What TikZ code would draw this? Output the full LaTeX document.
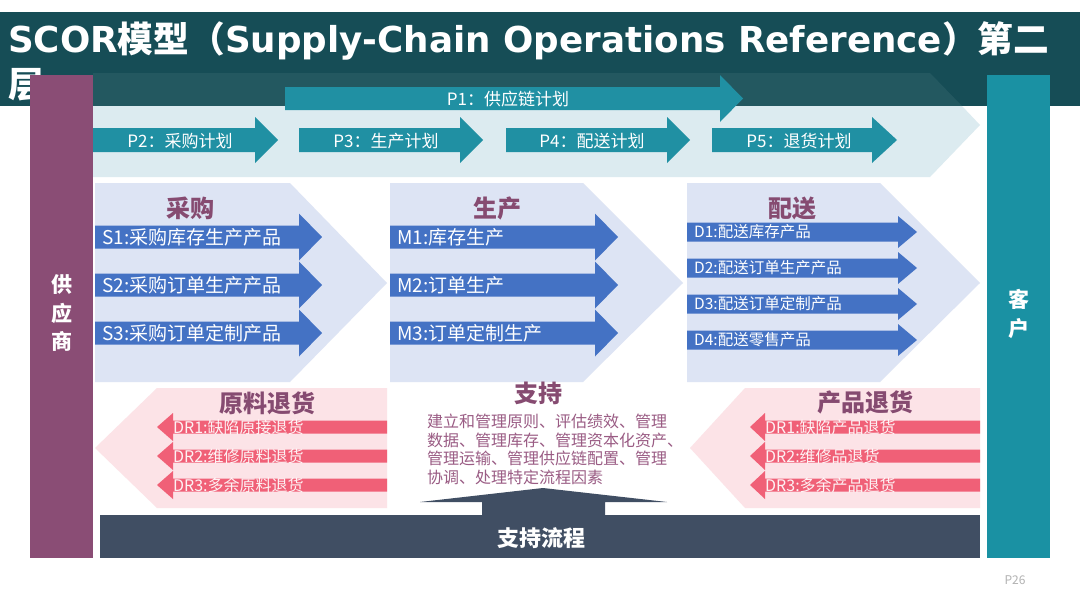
\documentclass[tikz,border=0pt]{standalone}
\usepackage{fontspec}
\setmainfont{Noto Sans CJK SC}
\newfontfamily\cjk{Noto Sans CJK SC}
\newfontfamily\dvs{DejaVu Sans}
\definecolor{band}{HTML}{164D56}
\definecolor{teal}{HTML}{2090A3}
\definecolor{custc}{HTML}{1A91A3}
\definecolor{purp}{HTML}{8A4D75}
\definecolor{planbg}{HTML}{DCEBF0}
\definecolor{lav}{HTML}{DDE4F4}
\definecolor{blu}{HTML}{4472C4}
\definecolor{headc}{HTML}{864B71}
\definecolor{pinkbg}{HTML}{FCE3E7}
\definecolor{redc}{HTML}{F06077}
\definecolor{supc}{HTML}{9A5C84}
\definecolor{slate}{HTML}{404E63}
\newcommand\rarr[7]{% x1, xb, xt, yc, halfbody, halfhead, color
  \fill[#7] (#1,#4-#5) -- (#2,#4-#5) -- (#2,#4-#6) -- (#3,#4) -- (#2,#4+#6) -- (#2,#4+#5) -- (#1,#4+#5) -- cycle;}
\tikzset{
  plab/.style={text=white, font=\fontsize{17}{20}\selectfont, inner sep=0},
  blab/.style={text=white, font=\fontsize{19}{22}\selectfont, inner sep=0, anchor=west},
  dlab/.style={text=white, font=\fontsize{15.5}{18}\selectfont, inner sep=0, anchor=west},
  rlab/.style={text=white, opacity=0.92, font=\fontsize{16}{18}\selectfont, inner sep=0, anchor=west},
  heading/.style={text=headc, font=\fontsize{24}{28}\selectfont\bfseries, inner sep=0},
  sidelab/.style={text=white, font=\fontsize{21}{28.5}\selectfont\bfseries, inner sep=0, align=center}
}
\begin{document}
\begin{tikzpicture}[x=1pt,y=-1pt]
\useasboundingbox (0,0) rectangle (1080,608);
\fill[white] (0,0) rectangle (1080,608);
% plan chevron background
\fill[planbg] (93,106) -- (962,106) -- (980,125) -- (930,177) -- (93,177) -- cycle;
% title band
\fill[band] (0,12) rectangle (1080,106);
\fill[planbg, opacity=0.07] (93,73) -- (930,73) -- (962,106) -- (93,106) -- cycle;
\node[anchor=base west, inner sep=0, text=white] (title) at (8,52)
  {\fontsize{35.7}{40}\selectfont\dvs\bfseries SCOR{\cjk\bfseries 模型（}Supply-Chain Operations Reference{\cjk\bfseries ）第二}};
\node[anchor=base west, inner sep=0, text=white] (title2) at (8,97)
  {\fontsize{35.7}{40}\selectfont\cjk\bfseries 层};
% P arrows
\rarr{285}{720}{743}{98.5}{11.5}{23.5}{teal}
\node[plab] (p1) at (508,99) {P1：供应链计划};
\rarr{93}{255}{278}{140}{12}{23}{teal}
\node[plab] (p2) at (180,141) {P2：采购计划};
\rarr{299}{460}{483}{140}{12}{23}{teal}
\node[plab] (p3) at (386,141) {P3：生产计划};
\rarr{506}{667}{690}{140}{12}{23}{teal}
\node[plab] (p4) at (592,141) {P4：配送计划};
\rarr{712}{872}{897}{140}{12}{23}{teal}
\node[plab] (p5) at (799,141) {P5：退货计划};
% lavender chevrons
\fill[lav] (95,183) -- (290,183) -- (387,283) -- (290,382) -- (95,382) -- cycle;
\fill[lav] (390,183) -- (583,183) -- (683,283) -- (583,382) -- (390,382) -- cycle;
\fill[lav] (687,183) -- (880,183) -- (980,283) -- (880,382) -- (687,382) -- cycle;
\node[heading] (hs) at (190,208) {采购};
\node[heading] (hm) at (497,208) {生产};
\node[heading] (hd) at (792,208) {配送};
% S arrows
\rarr{95}{299}{322}{237}{11.5}{23.5}{blu}
\rarr{95}{299}{322}{285}{11.5}{23.5}{blu}
\rarr{95}{299}{322}{333}{11.5}{23.5}{blu}
\node[blab] (s1) at (102,237) {S1:采购库存生产产品};
\node[blab] (s2) at (102,285) {S2:采购订单生产产品};
\node[blab] (s3) at (102,333) {S3:采购订单定制产品};
% M arrows
\rarr{390}{595}{618}{237}{11.5}{23.5}{blu}
\rarr{390}{595}{618}{285}{11.5}{23.5}{blu}
\rarr{390}{595}{618}{333}{11.5}{23.5}{blu}
\node[blab] (m1) at (397,237) {M1:库存生产};
\node[blab] (m2) at (397,285) {M2:订单生产};
\node[blab] (m3) at (397,333) {M3:订单定制生产};
% D arrows
\rarr{687}{898}{917}{232}{9.5}{16}{blu}
\rarr{687}{898}{917}{268}{9.5}{16}{blu}
\rarr{687}{898}{917}{304}{9.5}{16}{blu}
\rarr{687}{898}{917}{340}{9.5}{16}{blu}
\node[dlab] (d1) at (694,232) {D1:配送库存产品};
\node[dlab] (d2) at (694,268) {D2:配送订单生产产品};
\node[dlab] (d3) at (694,304) {D3:配送订单定制产品};
\node[dlab] (d4) at (694,340) {D4:配送零售产品};
% pink chevrons
\fill[pinkbg] (157,388) -- (387,388) -- (387,508) -- (157,508) -- (95,448) -- cycle;
\fill[pinkbg] (745,388) -- (980,388) -- (980,508) -- (745,508) -- (690,448) -- cycle;
\node[heading] (hsr) at (267,403) {原料退货};
\node[heading] (hdr) at (865,402) {产品退货};
% red arrows left
\rarr{387}{173}{157}{427}{6.5}{14}{redc}
\rarr{387}{173}{157}{456}{6.5}{14}{redc}
\rarr{387}{173}{157}{485}{6.5}{14}{redc}
\node[rlab] (sr1) at (173,427) {DR1:缺陷原接退货};
\node[rlab] (sr2) at (173,456) {DR2:维修原料退货};
\node[rlab] (sr3) at (173,485) {DR3:多余原料退货};
% red arrows right
\rarr{980}{765}{750}{427}{6.5}{14}{redc}
\rarr{980}{765}{750}{456}{6.5}{14}{redc}
\rarr{980}{765}{750}{485}{6.5}{14}{redc}
\node[rlab] (dr1) at (765,427) {DR1:缺陷产品退货};
\node[rlab] (dr2) at (765,456) {DR2:维修品退货};
\node[rlab] (dr3) at (765,485) {DR3:多余产品退货};
% support
\node[heading] (hsup) at (538,393) {支持};
\node[anchor=north west, inner sep=0, text=supc, align=left,
      font=\fontsize{16}{18.5}\selectfont] (suptext) at (427,414)
  {建立和管理原则、评估绩效、管理\\数据、管理库存、管理资本化资产、\\管理运输、管理供应链配置、管理\\协调、处理特定流程因素};
\fill[slate] (420,502) -- (543,488) -- (667,502) -- (605,502) -- (605,515) -- (482,515) -- (482,502) -- cycle;
\fill[slate] (100,515) rectangle (980,558);
\node[text=white, inner sep=0, font=\fontsize{22}{26}\selectfont\bfseries] (supflow) at (541,538) {支持流程};
% side bars
\fill[purp] (30,75) rectangle (93,558);
\fill[custc] (987,75) rectangle (1050,558);
\node[sidelab] (supplier) at (61.5,313) {供\\应\\商};
\node[sidelab] (customer) at (1018.5,314) {客\\户};
\node[text=black!30, inner sep=0, font=\fontsize{12}{14}\selectfont] (page) at (1015,580) {P26};
\end{tikzpicture}
\end{document}
